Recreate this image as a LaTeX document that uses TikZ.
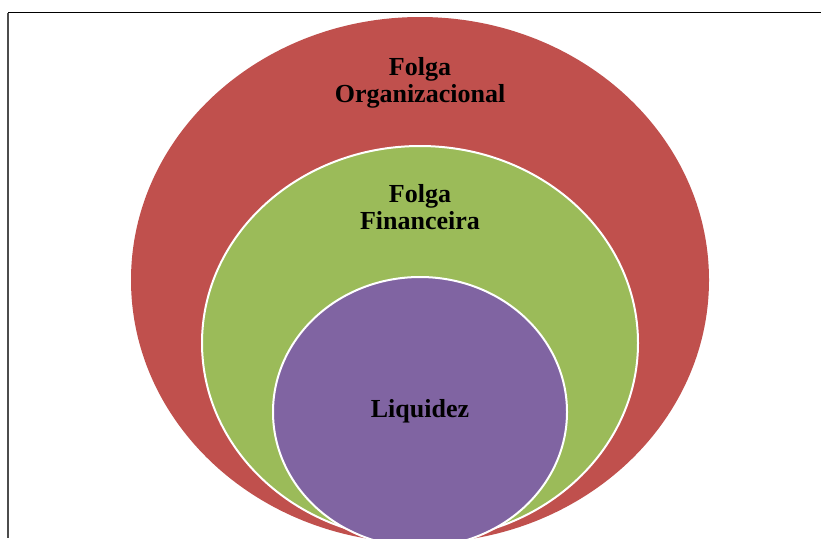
\documentclass[tikz,border=0pt]{standalone}
\usepackage{fontspec}
\setmainfont{Liberation Serif}
\usetikzlibrary{shapes.geometric}

\definecolor{slackred}{HTML}{C0504D}
\definecolor{slackgreen}{HTML}{9BBB59}
\definecolor{slackpurple}{HTML}{8064A2}

\begin{document}
\begin{tikzpicture}[x=1pt, y=-1pt,
    level/.style={ellipse, draw=white, line width=2pt, inner sep=0pt},
    tag/.style={align=center, inner sep=0pt, font=\fontsize{26}{27}\selectfont\bfseries}]
    \useasboundingbox (0, 0) rectangle (821, 538);
    \clip (0, 0) rectangle (821, 538);
    \fill[white] (0, 0) rectangle (821, 538);

    % frame of the figure
    \draw[black, line width=1.2pt] (8, 12.5) -- (821, 12.5);
    \draw[black!70, line width=1.8pt] (8, 12.5) -- (8, 538);

    % nested slack levels
    \node[level, fill=slackred, draw=none, minimum width=578pt, minimum height=526pt] (org) at (420, 280) {};
    \node[level, fill=slackgreen, minimum width=436pt, minimum height=394pt] (fin) at (420, 343) {};
    \node[level, fill=slackpurple, minimum width=294pt, minimum height=270pt] (liq) at (420, 412) {};

    % labels
    \node[tag] (orgtag) at (420, 82.5) {Folga\\Organizacional};
    \node[tag] (fintag) at (420, 207) {Folga\\Financeira};
    \node[tag] (liqtag) at (420, 411) {Liquidez};
\end{tikzpicture}
\end{document}
